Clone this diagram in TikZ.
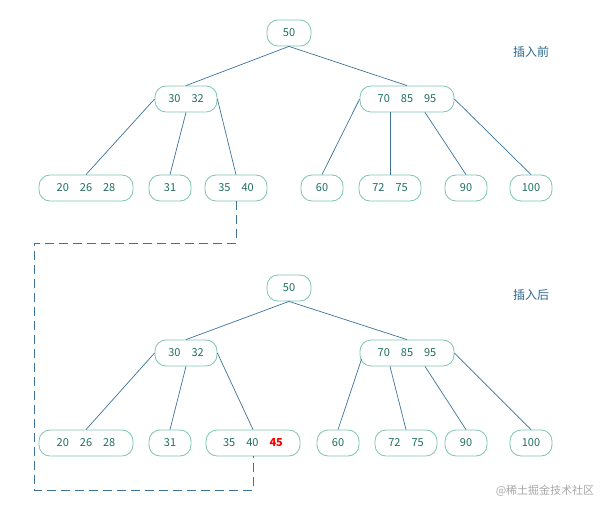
\documentclass[tikz,border=0pt]{standalone}
\usepackage{fontspec}
\setmainfont{Noto Sans CJK SC}
\usetikzlibrary{calc, positioning}
\definecolor{keyline}{HTML}{7CC4B2}
\definecolor{keytext}{HTML}{1E6E62}
\definecolor{edgeblue}{HTML}{3C729C}
\definecolor{tagblue}{HTML}{2E6790}

\begin{document}
\begin{tikzpicture}[x=1pt,y=-1pt,
  key/.style={draw=keyline, line width=.8pt, rounded corners=11pt, minimum height=26pt, inner sep=0pt, text=keytext, font=\fontsize{11}{12}\selectfont},
  link/.style={draw=edgeblue, line width=.7pt},
  tag/.style={text=tagblue, font=\fontsize{12}{14}\selectfont}]
  \useasboundingbox (0,0) rectangle (616,513);

  % before insertion
  \node[key, minimum width=44pt] (r1) at (289,33) {50};
  \node[key, minimum width=62pt] (l1) at (186,99) {30\hspace{11pt}32};
  \node[key, minimum width=94pt] (m1) at (407,99) {70\hspace{11pt}85\hspace{11pt}95};
  \node[key, minimum width=94pt] (a1) at (86,188) {20\hspace{11pt}26\hspace{11pt}28};
  \node[key, minimum width=42pt] (b1) at (170,188) {31};
  \node[key, minimum width=62pt] (c1) at (236,188) {35\hspace{11pt}40};
  \node[key, minimum width=42pt] (d1) at (322,188) {60};
  \node[key, minimum width=62pt] (e1) at (390,188) {72\hspace{11pt}75};
  \node[key, minimum width=42pt] (f1) at (466,188) {90};
  \node[key, minimum width=42pt] (g1) at (531,188) {100};
  \node[tag] (t1) at (531,52) {插入前};

  \draw[link] (r1.south) -- (l1.north);
  \draw[link] (r1.south) -- (m1.north);
  \draw[link] (l1.west) -- (a1.north);
  \draw[link] (l1.south) -- (b1.north);
  \draw[link] (l1.east) -- (c1.north);
  \draw[link] (m1.west) -- (d1.north);
  \draw[link] ($(m1.south)+(-17,0)$) -- (e1.north);
  \draw[link] ($(m1.south)+(18,0)$) -- (f1.north);
  \draw[link] (m1.east) -- (g1.north);

  % after insertion
  \node[key, minimum width=44pt] (r2) at (289,288) {50};
  \node[key, minimum width=62pt] (l2) at (186,353) {30\hspace{11pt}32};
  \node[key, minimum width=94pt] (m2) at (407,353) {70\hspace{11pt}85\hspace{11pt}95};
  \node[key, minimum width=94pt] (a2) at (86,443) {20\hspace{11pt}26\hspace{11pt}28};
  \node[key, minimum width=42pt] (b2) at (170,443) {31};
  \node[key, minimum width=94pt] (c2) at (253,443) {35\hspace{11pt}40\hspace{11pt}\textcolor{red}{\bfseries 45}};
  \node[key, minimum width=42pt] (d2) at (338,443) {60};
  \node[key, minimum width=62pt] (e2) at (406,443) {72\hspace{11pt}75};
  \node[key, minimum width=42pt] (f2) at (466,443) {90};
  \node[key, minimum width=42pt] (g2) at (531,443) {100};
  \node[tag] (t2) at (531,295) {插入后};

  \draw[link] (r2.south) -- (l2.north);
  \draw[link] (r2.south) -- (m2.north);
  \draw[link] (l2.west) -- (a2.north);
  \draw[link] (l2.south) -- (b2.north);
  \draw[link] (l2.east) -- (c2.north);
  \draw[link] ($(m2.west)+(2,6)$) -- (d2.north);
  \draw[link] ($(m2.south)+(-17,0)$) -- (e2.north);
  \draw[link] ($(m2.south)+(18,0)$) -- (f2.north);
  \draw[link] (m2.east) -- (g2.north);

  \draw[link, dash pattern=on 9pt off 5pt] (c1.south) |- (34,243) |- (253,490) -- (c2.south);

  \node[text=gray!70, font=\fontsize{11}{12}\selectfont] (wm) at (545,491) {@稀土掘金技术社区};
\end{tikzpicture}
\end{document}
